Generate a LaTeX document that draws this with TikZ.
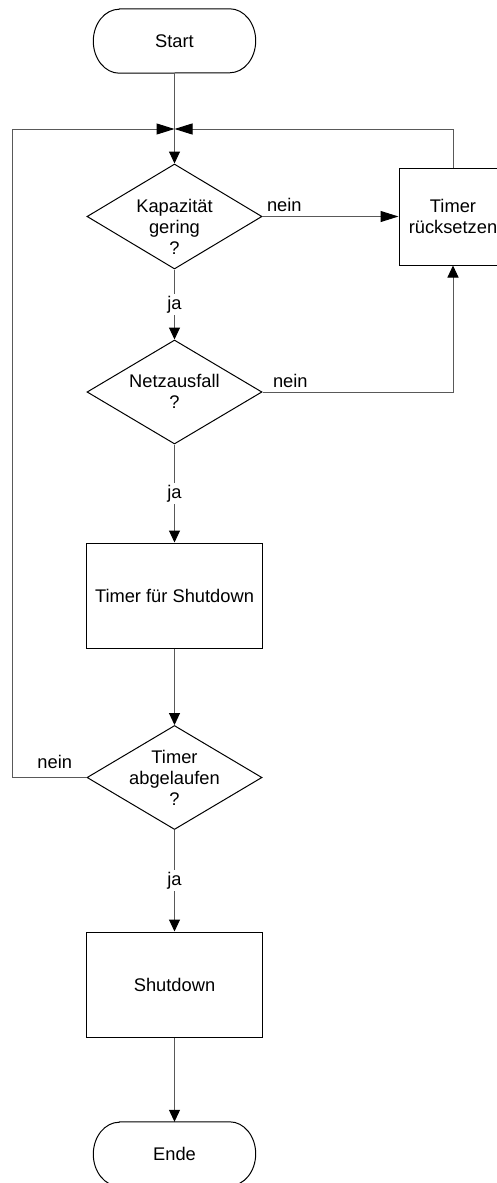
\documentclass[tikz,border=0pt]{standalone}
\usepackage{fontspec}
\setmainfont{Liberation Sans}
\usetikzlibrary{arrows.meta,shapes.geometric}
\newcommand\termoutline[1]{%
  \draw[shp] ([xshift=26pt]#1.north west) -- ([xshift=-26pt]#1.north east)
    arc[start angle=90,end angle=-90,x radius=26pt,y radius=32pt]
    -- ([xshift=26pt]#1.south west)
    arc[start angle=270,end angle=90,x radius=26pt,y radius=32pt] -- cycle;}
\begin{document}
\begin{tikzpicture}[x=1pt,y=-1pt,
  font=\fontsize{18.3pt}{21pt}\selectfont,
  shp/.style={draw=black, line width=1pt},
  box/.style={shp, rectangle, inner sep=0pt, align=center},
  dia/.style={shp, diamond, inner sep=0pt, minimum width=175pt, minimum height=105pt},
  term/.style={rectangle, inner sep=0pt, minimum width=162pt, minimum height=64pt},
  txt/.style={align=center, inner sep=0pt},
  conn/.style={draw=black!65, line width=1pt},
  va/.style={-{Triangle[length=12pt,width=11pt,color=black]}},
  ha/.style={-{Triangle[length=18pt,width=11pt,color=black]}},
  ja/.style={fill=white, inner sep=2pt}]
\useasboundingbox (0,0) rectangle (497,1183);
\clip (0,0) rectangle (497,1183);

% nodes
\node[term] (start) at (174.5,41) {Start};
\termoutline{start}
\node[dia] (d1) at (174.5,216.5) {};
\node[txt] (t1) at (174.5,227) {Kapazität\\gering\\?};
\node[box, minimum width=108pt, minimum height=97pt] (reset) at (453,216.5) {Timer\\rücksetzen};
\node[dia, minimum height=104pt] (d2) at (174.5,392) {};
\node[txt] (t2) at (174.5,391) {Netzausfall\\?};
\node[box, minimum width=176pt, minimum height=105pt] (tbox) at (174.5,595.5) {Timer für Shutdown};
\node[dia, minimum height=104pt] (d3) at (174.5,777.5) {};
\node[txt] (t3) at (174.5,777.5) {Timer\\abgelaufen\\?};
\node[box, minimum width=176pt, minimum height=105pt] (sbox) at (174.5,984.5) {Shutdown};
\node[term] (ende) at (174.5,1154) {Ende};
\termoutline{ende}

\coordinate (j) at (174.5,129);
\coordinate (lx) at (12,129);

% connectors
\draw[conn,va] (start.south) -- (d1.north);
\draw[conn,ha] (d3.west) -- node[pos=0, anchor=base east, xshift=-14pt, yshift=9.5pt, inner sep=0pt]{nein} (lx |- d3.west) -- (lx) -- (j);
\draw[conn,ha] (reset.north) |- (j);
\draw[conn,ha] (d1.east) -- node[pos=0, anchor=base west, xshift=4pt, yshift=5pt, inner sep=0pt]{nein} (reset.west);
\draw[conn,va] (d2.east) -- node[pos=0, anchor=base west, xshift=10pt, yshift=5pt, inner sep=0pt]{nein} (reset.south |- d2.east) -- (reset.south);
\draw[conn,va] (d1.south) -- node[ja]{ja} (d2.north);
\draw[conn,va] (d2.south) -- node[ja]{ja} (tbox.north);
\draw[conn,va] (tbox.south) -- (d3.north);
\draw[conn,va] (d3.south) -- node[ja]{ja} (sbox.north);
\draw[conn,va] (sbox.south) -- (ende.north);
\end{tikzpicture}
\end{document}
